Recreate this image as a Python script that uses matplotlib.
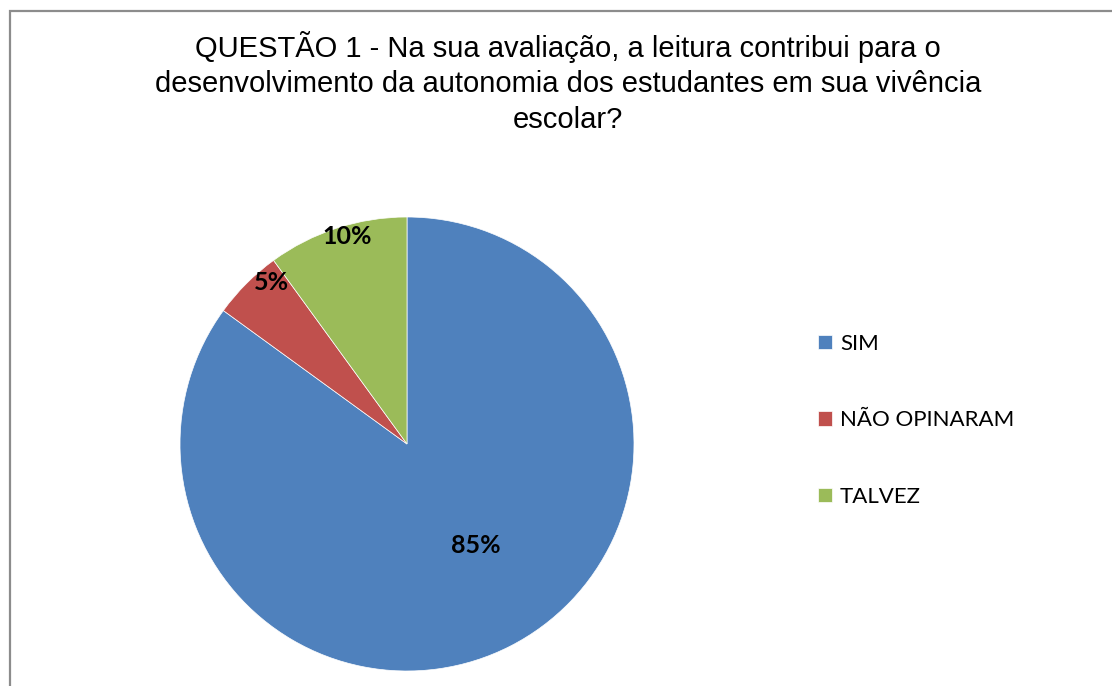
import numpy as np
import matplotlib.pyplot as plt
from matplotlib.patches import Rectangle

# dados do grafico
categorias = ['SIM', 'NÃO OPINARAM', 'TALVEZ']
valores = [85, 5, 10]
cores = ['#4F81BD', '#C0504D', '#9BBB59']
titulo = ('QUESTÃO 1 - Na sua avaliação, a leitura contribui para o\n'
          'desenvolvimento da autonomia dos estudantes em sua vivência\n'
          'escolar?')

W, H = 1112, 686
fig = plt.figure(figsize=(W / 100, H / 100), dpi=100)

# moldura cinza (cortada a direita e embaixo)
fig.patches.append(Rectangle((10 / W, -0.1), 1.2, 1 - 11 / H + 0.1,
                             transform=fig.transFigure, fill=False,
                             edgecolor='#8c8c8c', linewidth=1.6))

fig.text(568 / W, 1 - 31 / H, titulo, ha='center', va='top',
         fontsize=21, family='Liberation Sans', linespacing=1.33)

cx, cy, r = 407, 444, 227
ax = fig.add_axes([(cx - r) / W, (H - cy - r) / H, 2 * r / W, 2 * r / H])
wedges, _ = ax.pie(valores, colors=cores, startangle=90, counterclock=False,
                   radius=1, wedgeprops=dict(linewidth=0.5, edgecolor='white'))
ax.set_xlim(-1, 1)
ax.set_ylim(-1, 1)
ax.set_aspect('auto')
ax.axis('off')

# rotulos de porcentagem
dist = [0.54, 0.93, 0.95]
ajuste = [7, -5, -2]
for w, v, d, a in zip(wedges, valores, dist, ajuste):
    ang = np.deg2rad((w.theta1 + w.theta2) / 2 + a)
    ax.text(d * np.cos(ang), d * np.sin(ang), f'{v}%', ha='center', va='center',
            fontsize=18, fontweight='bold', family='Lato')

fig.legend(wedges, categorias, loc='upper left',
           bbox_to_anchor=(818 / W, 1 - 334 / H), frameon=False,
           prop=dict(family='Lato', size=16), handlelength=0.63, handleheight=0.63,
           handletextpad=0.36, labelspacing=2.54, borderpad=0, borderaxespad=0)

fig.savefig('out.png', dpi=100)
